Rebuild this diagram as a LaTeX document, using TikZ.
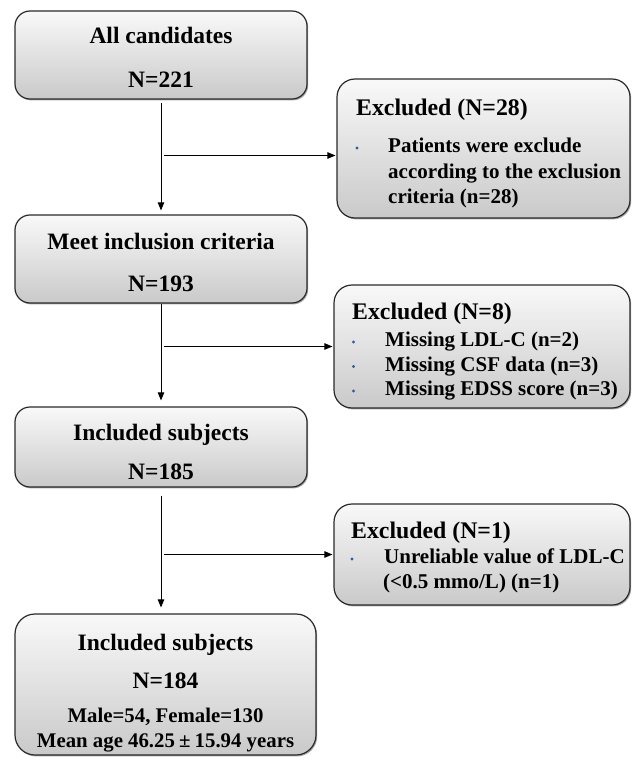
\documentclass[tikz,border=0pt]{standalone}
\usepackage{fontspec}
\setmainfont{Liberation Serif}
\usetikzlibrary{arrows.meta,shadows}
\definecolor{bord}{HTML}{2A2A2A}
\definecolor{bulblue}{HTML}{2F5D9E}
\begin{document}
\begin{tikzpicture}[x=1pt,y=-1pt,
  box/.style={draw=bord, line width=1.2pt, rounded corners=15pt,
    top color=gray!5, bottom color=gray!42, inner sep=0pt,
    drop shadow={shadow xshift=1.2pt, shadow yshift=-1.4pt, opacity=0.35, fill=black}},
  mt/.style={font=\fontsize{23.5}{28}\selectfont\bfseries, inner sep=0pt, anchor=base},
  st/.style={font=\fontsize{20.8}{25}\selectfont\bfseries, inner sep=0pt, anchor=base},
  hd/.style={font=\fontsize{23.8}{28}\selectfont\bfseries, inner sep=0pt, anchor=base west},
  bt/.style={font=\fontsize{21}{25}\selectfont\bfseries, inner sep=0pt, anchor=base west},
  arr/.style={draw=black, line width=0.9pt, -{Triangle[length=8pt,width=6.5pt]}},
  bul/.style={fill=bulblue}]
\useasboundingbox (0,0) rectangle (631,762);

% main boxes
\node[box, minimum width=292pt, minimum height=88pt] (b1) at (161,55) {};
\node[box, minimum width=292pt, minimum height=88pt] (b2) at (161,259) {};
\node[box, minimum width=292pt, minimum height=80pt] (b3) at (161,447) {};
\node[box, minimum width=301pt, minimum height=141pt, rounded corners=20pt] (b4) at (165.5,684.5) {};

% excluded boxes
\node[box, minimum width=293pt, minimum height=139pt, rounded corners=18pt] (e1) at (483.5,148.5) {};
\node[box, minimum width=296pt, minimum height=123pt, rounded corners=18pt] (e2) at (482,346.5) {};
\node[box, minimum width=296pt, minimum height=101pt, rounded corners=18pt] (e3) at (482,554.5) {};

% main texts
\node[mt] (t1a) at (161,44) {All candidates};
\node[mt] (t1b) at (161,88) {N=221};
\node[mt] (t2a) at (161,249) {Meet inclusion criteria};
\node[mt] (t2b) at (161,291) {N=193};
\node[mt] (t3a) at (161,440) {Included subjects};
\node[mt] (t3b) at (161,479) {N=185};
\node[mt] (t4a) at (165.5,650) {Included subjects};
\node[mt] (t4b) at (165.5,688.5) {N=184};
\node[st] (t4c) at (165.5,722.5) {Male=54, Female=130};
\node[st] (t4d) at (165.5,747) {Mean age 46.25\hspace{0.2em}±\hspace{0.2em}15.94 years};

% excluded texts
\node[hd] (h1) at (356,116) {Excluded (N=28)};
\fill[bul] (357,148) circle (1.7);
\node[bt] (l1a) at (388,153) {Patients were exclude};
\node[bt] (l1b) at (388,178.5) {according to the exclusion};
\node[bt] (l1c) at (388,204) {criteria (n=28)};

\node[hd] (h2) at (352,319.5) {Excluded (N=8)};
\fill[bul] (353.5,342) circle (1.7);
\fill[bul] (353.5,366.5) circle (1.7);
\fill[bul] (353.5,391) circle (1.7);
\node[bt] (l2a) at (385,346.5) {Missing LDL-C (n=2)};
\node[bt] (l2b) at (385,371) {Missing CSF data (n=3)};
\node[bt] (l2c) at (385,395.5) {Missing EDSS score (n=3)};

\node[hd] (h3) at (351,538) {Excluded (N=1)};
\fill[bul] (352,559) circle (1.7);
\node[bt] (l3a) at (384,563.5) {Unreliable value of LDL-C};
\node[bt] (l3b) at (383,588) {(<0.5 mmo/L) (n=1)};

% vertical arrows
\draw[arr, shorten <=3pt, shorten >=4pt] (b1.south) -- (b2.north);
\draw[arr, shorten >=6pt] (b2.south) -- (b3.north);
\draw[arr, shorten <=8pt, shorten >=6pt] (b3.south) -- (b3.south |- b4.north);

% horizontal arrows
\coordinate (j1) at (164,155.5);
\coordinate (j2) at (164,346.5);
\coordinate (j3) at (164,554.5);
\draw[arr, shorten >=1pt] (j1) -- (j1 -| e1.west);
\draw[arr, shorten >=1pt] (j2) -- (j2 -| e2.west);
\draw[arr, shorten >=1pt] (j3) -- (j3 -| e3.west);
\end{tikzpicture}
\end{document}
